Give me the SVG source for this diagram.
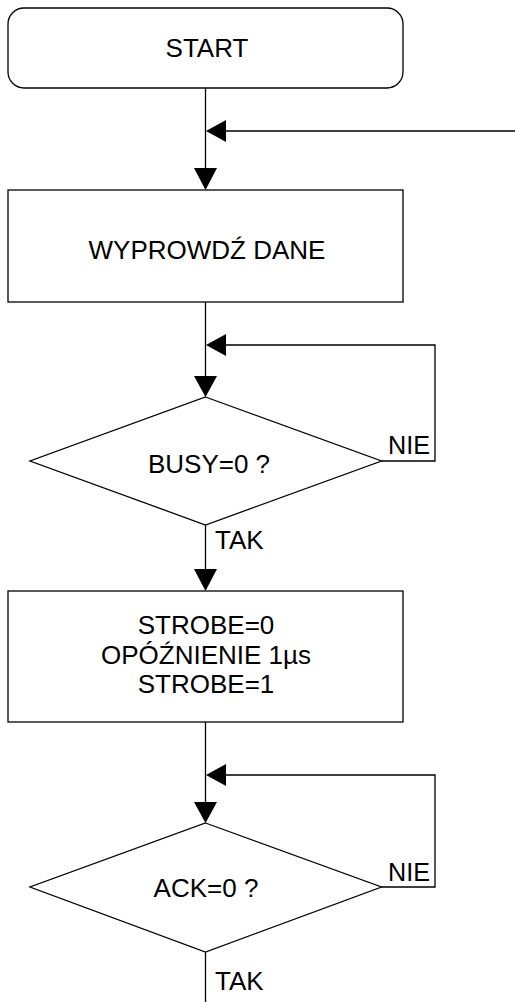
<svg xmlns="http://www.w3.org/2000/svg" width="515" height="1002" viewBox="0 0 515 1002">
<style>
.shape{fill:#fff;stroke:#000;stroke-width:1.3}
.line{fill:none;stroke:#000;stroke-width:1.3}
.head{fill:#000;stroke:none}
text{font-family:"Liberation Sans",Arial,sans-serif;font-size:26px;fill:#000}
.c{text-anchor:middle}
</style>
<g id="connectors">
<path class="line" d="M205.5 88V172"/>
<path class="line" d="M515 131H224"/>
<polygon class="head" points="206,131 226,120 226,142"/>
<polygon class="head" points="194,168 217,168 205.5,190"/>
<path class="line" d="M205.5 302V380"/>
<path class="line" d="M381.5 461H435V345H224"/>
<polygon class="head" points="206,345 226,334 226,356"/>
<polygon class="head" points="194,376 217,376 205.5,397"/>
<path class="line" d="M205.5 525V572"/>
<polygon class="head" points="194,569 217,569 205.5,591"/>
<path class="line" d="M205.5 722V806"/>
<path class="line" d="M381.5 887H435V775H224"/>
<polygon class="head" points="206,775 226,764 226,786"/>
<polygon class="head" points="194,802 217,802 205.5,823"/>
<path class="line" d="M205.5 952V1002"/>
<text x="388" y="454" textLength="42" lengthAdjust="spacingAndGlyphs">NIE</text>
<text x="215" y="549">TAK</text>
<text x="388" y="881" textLength="42" lengthAdjust="spacingAndGlyphs">NIE</text>
<text x="215" y="990">TAK</text>
</g>
<g id="start">
<rect class="shape" x="8" y="8" width="395" height="80" rx="16"/>
<text class="c" x="207" y="57">START</text>
</g>
<g id="wyprowadz">
<rect class="shape" x="8" y="190" width="395" height="112"/>
<text class="c" x="207" y="259">WYPROWDŹ DANE</text>
</g>
<g id="busy">
<polygon class="shape" points="205.5,397 381.5,461 205.5,525 30,461"/>
<text class="c" x="209" y="473">BUSY=0 ?</text>
</g>
<g id="strobe">
<rect class="shape" x="8" y="591" width="395" height="131"/>
<text class="c" x="206" y="634">STROBE=0</text>
<text class="c" x="206" y="664">OPÓŹNIENIE 1µs</text>
<text class="c" x="206" y="693">STROBE=1</text>
</g>
<g id="ack">
<polygon class="shape" points="205.5,823 381.5,887 205.5,952 30,887"/>
<text class="c" x="206" y="897">ACK=0 ?</text>
</g>
</svg>
